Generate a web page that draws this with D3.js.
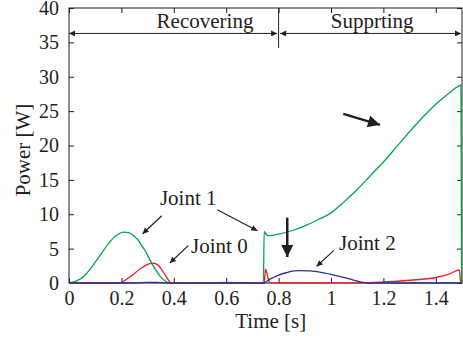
<!DOCTYPE html>
<html>
<head>
<meta charset="utf-8">
<script src="https://cdn.jsdelivr.net/npm/d3@7"></script>
<style>
  body { margin: 0; background: #fff; }
  svg text { font-family: "Liberation Serif", "Times New Roman", Times, "DejaVu Serif", serif !important; fill: #231f20; }
</style>
</head>
<body>
<div id="chart"></div>
<script>
// Joint 1 (green)
const joint1T = [0, 0.03, 0.06, 0.09, 0.12, 0.15, 0.18, 0.21, 0.23, 0.26, 0.29, 0.32, 0.35, 0.38, 0.39, 0.742, 0.745, 0.75, 0.76, 0.8, 0.85, 0.9, 0.95, 1.0, 1.05, 1.1, 1.15, 1.2, 1.25, 1.3, 1.35, 1.4, 1.45, 1.49, 1.496, 1.4985];
const joint1V = [0, 0.3, 1.1, 2.5, 4.1, 5.7, 6.9, 7.4, 7.3, 6.4, 4.7, 2.6, 0.9, 0.05, 0, 0, 7.5, 7.2, 6.9, 7.1, 7.6, 8.3, 9.2, 10.2, 11.8, 13.6, 15.6, 17.6, 19.8, 22.0, 24.1, 26.0, 27.6, 28.7, 28.8, 0];
// Joint 0 (red)
const joint0T = [0, 0.19, 0.21, 0.24, 0.27, 0.30, 0.32, 0.34, 0.36, 0.38, 0.39, 0.55, 0.6, 0.65, 0.745, 0.75, 0.757, 0.765, 0.8, 1.1, 1.2, 1.3, 1.4, 1.45, 1.49, 1.495, 1.5];
const joint0V = [0, 0, 0.3, 1.1, 2.0, 2.7, 2.9, 2.6, 1.6, 0.4, 0, 0, 0.08, 0.05, 0, 2.0, 1.2, 0.1, 0, 0.02, 0.15, 0.4, 0.8, 1.3, 1.9, 0.1, 0];
// Joint 2 (blue)
const joint2T = [0, 0.25, 0.3, 0.35, 0.4, 0.745, 0.76, 0.78, 0.8, 0.83, 0.86, 0.88, 0.92, 0.96, 1.0, 1.04, 1.08, 1.12, 1.14, 1.5];
const joint2V = [0, 0, 0.1, 0.05, 0, 0, 0.4, 0.8, 1.15, 1.5, 1.75, 1.8, 1.75, 1.55, 1.25, 0.9, 0.5, 0.1, 0, 0];

const xTicks = [0, 0.2, 0.4, 0.6, 0.8, 1, 1.2, 1.4];
const yTicks = [0, 5, 10, 15, 20, 25, 30, 35, 40];

const phaseNames = ["Recovering", "Supprting"];
const phaseBounds = [0, 0.8, 1.5];

const serif = "'Liberation Serif', 'Times New Roman', Times, 'DejaVu Serif', serif";
const width = 463, height = 338;
const margin = { top: 8, right: 1, bottom: 55, left: 69 };
const w = width - margin.left - margin.right;
const h = height - margin.top - margin.bottom;

const svg = d3.select("#chart").append("svg")
  .attr("width", width)
  .attr("height", height)
  .attr("font-family", serif);

const defs = svg.append("defs");
defs.append("marker")
  .attr("id", "head")
  .attr("markerUnits", "userSpaceOnUse")
  .attr("viewBox", "0 0 10 10")
  .attr("refX", 10).attr("refY", 5)
  .attr("markerWidth", 9).attr("markerHeight", 6)
  .attr("orient", "auto-start-reverse")
  .append("path")
  .attr("d", "M0,0L10,5L0,10Z")
  .attr("fill", "#231f20");
defs.append("marker")
  .attr("id", "bighead")
  .attr("markerUnits", "userSpaceOnUse")
  .attr("viewBox", "0 0 10 10")
  .attr("refX", 10).attr("refY", 5)
  .attr("markerWidth", 19).attr("markerHeight", 12)
  .attr("orient", "auto")
  .append("path")
  .attr("d", "M0,0L10,5L0,10Z")
  .attr("fill", "#231f20");

const g = svg.append("g")
  .attr("transform", `translate(${margin.left},${margin.top})`);

const x = d3.scaleLinear().domain([0, 1.5]).range([0, w]);
const y = d3.scaleLinear().domain([0, 40]).range([h, 0]);

// frame
g.append("rect")
  .attr("width", w).attr("height", h)
  .attr("fill", "none")
  .attr("stroke", "#231f20")
  .attr("stroke-width", 1);

function styleAxis(sel) {
  sel.attr("font-family", serif);
  sel.selectAll(".domain").remove();
  sel.selectAll(".tick line").attr("stroke", "#231f20");
  sel.selectAll(".tick text")
    .style("font-size", "20px")
    .attr("fill", "#231f20");
}

g.append("g")
  .attr("transform", `translate(0,${h})`)
  .call(d3.axisBottom(x).tickValues(xTicks).tickSizeInner(-5).tickSizeOuter(0).tickPadding(8)
    .tickFormat(d3.format("")))
  .call(styleAxis);

g.append("g")
  .call(d3.axisTop(x).tickValues(xTicks).tickSizeInner(-5).tickSizeOuter(0).tickFormat(""))
  .call(styleAxis);

g.append("g")
  .call(d3.axisLeft(y).tickValues(yTicks).tickSizeInner(-5).tickSizeOuter(0).tickPadding(10))
  .call(styleAxis);

g.append("g")
  .attr("transform", `translate(${w},0)`)
  .call(d3.axisRight(y).tickValues(yTicks).tickSizeInner(-5).tickSizeOuter(0).tickFormat(""))
  .call(styleAxis);

// series
const line = d3.line()
  .x(d => x(d[0]))
  .y(d => y(d[1]))
  .curve(d3.curveMonotoneX);

const series = [
  { t: joint1T, v: joint1V, color: "#00a651" },
  { t: joint0T, v: joint0V, color: "#ed1c24" },
  { t: joint2T, v: joint2V, color: "#2e3192" }
];

series.forEach(s => {
  g.append("path")
    .datum(s.t.map((t, i) => [t, s.v[i]]))
    .attr("fill", "none")
    .attr("stroke", s.color)
    .attr("stroke-width", 1.3)
    .attr("d", line);
});

// phase annotations
const phaseY = 36.3;
g.append("line")
  .attr("x1", x(phaseBounds[1])).attr("x2", x(phaseBounds[1]))
  .attr("y1", y(40)).attr("y2", y(34.2))
  .attr("stroke", "#231f20").attr("stroke-width", 1);

phaseNames.forEach((name, i) => {
  const a = phaseBounds[i], b = phaseBounds[i + 1];
  g.append("line")
    .attr("x1", x(a) + (i === 0 ? 0 : 1.5)).attr("x2", x(b) - (i === 0 ? 1.5 : 1))
    .attr("y1", y(phaseY)).attr("y2", y(phaseY))
    .attr("stroke", "#231f20").attr("stroke-width", 1)
    .attr("marker-start", "url(#head)")
    .attr("marker-end", "url(#head)");
});

g.append("text").attr("x", x(0.519)).attr("y", y(37.1))
  .attr("text-anchor", "middle").style("font-size", "21px").text(phaseNames[0]);
g.append("text").attr("x", x(1.157)).attr("y", y(37.1))
  .attr("text-anchor", "middle").style("font-size", "21px").text(phaseNames[1]);

// joint labels and arrows
const labels = [
  { text: "Joint 1", t: 0.347, v: 11.4 },
  { text: "Joint 0", t: 0.466, v: 4.41 },
  { text: "Joint 2", t: 1.031, v: 4.84 }
];
labels.forEach(l => {
  g.append("text").attr("x", x(l.t)).attr("y", y(l.v))
    .style("font-size", "21px").text(l.text);
});

const arrows = [
  [0.354, 9.79, 0.281, 7.17],
  [0.566, 10.66, 0.719, 7.61],
  [0.455, 5.43, 0.385, 2.91],
  [1.011, 4.74, 0.945, 2.41]
];
arrows.forEach(a => {
  g.append("line")
    .attr("x1", x(a[0])).attr("y1", y(a[1]))
    .attr("x2", x(a[2])).attr("y2", y(a[3]))
    .attr("stroke", "#231f20").attr("stroke-width", 1.2)
    .attr("marker-end", "url(#head)");
});

const bigArrows = [
  [0.833, 9.5, 0.833, 3.78],
  [1.047, 24.6, 1.187, 23.0]
];
bigArrows.forEach(a => {
  g.append("line")
    .attr("x1", x(a[0])).attr("y1", y(a[1]))
    .attr("x2", x(a[2])).attr("y2", y(a[3]))
    .attr("stroke", "#231f20").attr("stroke-width", 2.5)
    .attr("marker-end", "url(#bighead)");
});

// axis titles
svg.append("text")
  .attr("x", margin.left + x(0.77)).attr("y", 328)
  .attr("text-anchor", "middle").style("font-size", "21px").text("Time [s]");

svg.append("text")
  .attr("transform", "translate(30,150) rotate(-90)")
  .attr("text-anchor", "middle").style("font-size", "21px").text("Power [W]");
</script>
</body>
</html>
